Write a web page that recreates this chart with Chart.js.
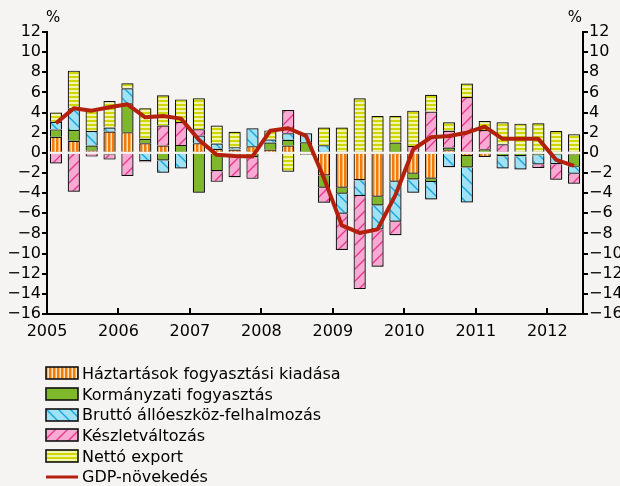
<!DOCTYPE html>
<html>
<head>
<meta charset="utf-8">
<script src="https://cdn.jsdelivr.net/npm/chart.js@4.4.0/dist/chart.umd.min.js"></script>
<style>
	body { margin: 0; background: #f5f4f2; font-family: "DejaVu Sans", sans-serif; }
	#wrap { position: relative; width: 620px; height: 345px; }
	#legend { position: absolute; left: 45px; top: 363px; font-size: 16px; color: #000; }
	.item { display: flex; align-items: center; height: 20.7px; }
	.item canvas { margin-right: 3px; }
</style>
</head>
<body>
<div id="wrap"><canvas id="myChart"></canvas></div>
<div id="legend"></div>
<script>
// Quarterly data, 2005 Q1 - 2012 Q2 (percentage point contributions)
var quarters = ['2005Q1', '2005Q2', '2005Q3', '2005Q4', '2006Q1', '2006Q2', '2006Q3', '2006Q4',
	'2007Q1', '2007Q2', '2007Q3', '2007Q4', '2008Q1', '2008Q2', '2008Q3', '2008Q4',
	'2009Q1', '2009Q2', '2009Q3', '2009Q4', '2010Q1', '2010Q2', '2010Q3', '2010Q4',
	'2011Q1', '2011Q2', '2011Q3', '2011Q4', '2012Q1', '2012Q2'];
var yearLabels = ['2005', '2006', '2007', '2008', '2009', '2010', '2011', '2012'];

var haztartasok = [1.6, 1.19, 0.23, 2.11, 2.05, 0.96, 0.73, 0, 0.96, 0.4, 0.3, 0.66, 0.3, 0.73, 0,
	-2.24, -3.47, -2.71, -4.36, -2.87, -2.08, -2.57, 0.26, -0.3, -0.4, 0, 0.1, 0, 0, -0.2];
var kormanyzati = [0.73, 1.09, 0.5, -0.2, 2.87, 0.43, -0.76, 0.79, -3.96, -1.82, 0.05, -0.43, 0.73, 0.56, 1.06,
	-1.22, -0.59, 0, -0.86, 1.02, -0.56, -0.33, 0.26, -1.16, 0.36, -0.33, -0.33, -0.23, -0.2, -1.19];
var brutto = [0.76, 2.15, 1.45, 0.4, 1.49, -0.83, -1.22, -1.55, 0.76, 0.53, 0.2, 1.78, 0.3, 0.66, 0.89,
	0.76, -1.98, -1.58, -2.38, -3.96, -1.32, -1.72, -1.42, -3.47, 0, -1.22, -1.32, -0.92, -0.92, -0.69];
var keszlet = [-1.06, -3.86, -0.37, -0.47, -2.31, -0.1, 1.98, 2.28, 0.63, -1.06, -2.41, -2.15, -0.12, 2.31, 0,
	-1.49, -3.6, -9.24, -3.7, -1.35, 0.69, 4.09, 1.68, 5.54, 1.91, 0.86, 0, -0.36, -1.55, -0.99];
var netto = [0.92, 3.73, 2.15, 2.64, 0.5, 3.04, 3.0, 2.24, 3.07, 1.78, 1.55, 0, 0.9, -1.88, -0.2,
	1.75, 2.51, 5.41, 3.66, 2.64, 3.5, 1.68, 0.83, 1.35, 0.89, 2.18, 2.8, 2.94, 2.18, 1.85];
var gdp = [2.94, 4.42, 4.19, 4.52, 4.82, 3.53, 3.66, 3.4, 1.3, -0.2, -0.3, -0.36, 2.2, 2.44, 1.68,
	-2.5, -7.2, -7.95, -7.6, -4.2, 0.36, 1.55, 1.68, 2.0, 2.6, 1.39, 1.39, 1.39, -0.7, -1.29];

var FONT = '"DejaVu Sans", sans-serif';

// pattern fills
function makePattern(w, h, draw) {
	var c = document.createElement('canvas');
	c.width = w;
	c.height = h;
	var g = c.getContext('2d');
	draw(g, w, h);
	return g.createPattern(c, 'repeat');
}
function vStripes(g) {
	g.fillStyle = '#f27c0a';
	g.fillRect(0, 0, 4, 4);
	g.fillStyle = '#fde2c2';
	g.fillRect(2.5, 0, 1.5, 4);
}
function solidGreen(g) {
	g.fillStyle = '#7fb82a';
	g.fillRect(0, 0, 4, 4);
}
function blueDiag(g) {
	g.fillStyle = '#9fe2f6';
	g.fillRect(0, 0, 12, 12);
	g.strokeStyle = '#18a6dc';
	g.lineWidth = 1.4;
	g.beginPath();
	g.moveTo(0, 0); g.lineTo(12, 12);
	g.moveTo(-2, 10); g.lineTo(2, 14);
	g.moveTo(10, -2); g.lineTo(14, 2);
	g.stroke();
}
function pinkDiag(g) {
	g.fillStyle = '#f8aad3';
	g.fillRect(0, 0, 12, 12);
	g.strokeStyle = '#e5378d';
	g.lineWidth = 1.4;
	g.beginPath();
	g.moveTo(0, 12); g.lineTo(12, 0);
	g.moveTo(-2, 2); g.lineTo(2, -2);
	g.moveTo(10, 14); g.lineTo(14, 10);
	g.stroke();
}
function hStripes(g) {
	g.fillStyle = '#d0d700';
	g.fillRect(0, 0, 4, 4);
	g.fillStyle = '#f2f5b0';
	g.fillRect(0, 2, 4, 2);
}

var series = [
	{ label: 'Háztartások fogyasztási kiadása', data: haztartasok, fill: vStripes },
	{ label: 'Kormányzati fogyasztás', data: kormanyzati, fill: solidGreen },
	{ label: 'Bruttó állóeszköz-felhalmozás', data: brutto, fill: blueDiag },
	{ label: 'Készletváltozás', data: keszlet, fill: pinkDiag },
	{ label: 'Nettó export', data: netto, fill: hStripes }
];
var patternSize = { vStripes: 4, solidGreen: 4, blueDiag: 12, pinkDiag: 12, hStripes: 4 };

function toPoints(arr) {
	return arr.map(function (v, i) { return { x: i + 0.5, y: v }; });
}

var datasets = series.map(function (s) {
	var n = patternSize[s.fill.name];
	return {
		type: 'bar',
		label: s.label,
		data: toPoints(s.data),
		backgroundColor: makePattern(n, n, s.fill),
		borderColor: '#111',
		borderWidth: 1.2,
		barPercentage: 0.68,
		categoryPercentage: 1,
		order: 1
	};
});
datasets.push({
	type: 'line',
	label: 'GDP-növekedés',
	data: toPoints(gdp),
	borderColor: '#b3200c',
	borderWidth: 4,
	borderJoinStyle: 'round',
	pointRadius: 0,
	fill: false,
	stack: 'gdp',
	order: 0
});

// soft shadow behind bars
var barShadow = {
	id: 'barShadow',
	beforeDatasetDraw: function (chart, args) {
		if (args.meta.type !== 'bar') return;
		var ctx = chart.ctx;
		ctx.save();
		ctx.shadowColor = 'rgba(0,0,0,0.35)';
		ctx.shadowBlur = 3;
		ctx.shadowOffsetX = 1;
		ctx.shadowOffsetY = 1;
	},
	afterDatasetDraw: function (chart, args) {
		if (args.meta.type !== 'bar') return;
		chart.ctx.restore();
	}
};

// % units and inward year ticks
var extras = {
	id: 'extras',
	afterDraw: function (chart) {
		var ctx = chart.ctx;
		var area = chart.chartArea;
		var x = chart.scales.x;
		ctx.save();
		ctx.font = '15px ' + FONT;
		ctx.fillStyle = '#000';
		ctx.textBaseline = 'middle';
		ctx.textAlign = 'left';
		ctx.fillText('%', area.left - 1, 18);
		ctx.textAlign = 'right';
		ctx.fillText('%', area.right - 1, 18);
		ctx.strokeStyle = '#000';
		ctx.lineWidth = 2;
		ctx.beginPath();
		for (var v = 4; v < 30; v += 4) {
			var px = Math.round(x.getPixelForValue(v));
			ctx.moveTo(px, area.bottom);
			ctx.lineTo(px, area.bottom - 6);
		}
		ctx.stroke();
		ctx.restore();
	}
};

function minus(v) {
	return String(v).replace('-', '\u2212');
}

var yAxis = {
	min: -16,
	max: 12,
	ticks: {
		stepSize: 2,
		maxTicksLimit: 20,
		autoSkip: false,
		color: '#000',
		padding: 1,
		font: { family: FONT, size: 16 },
		callback: minus
	},
	grid: { drawOnChartArea: false, color: '#000', lineWidth: 2, tickLength: 5 },
	border: { color: '#000', width: 2 }
};

var ctx = document.getElementById('myChart').getContext('2d');
var myChart = new Chart(ctx, {
	data: { datasets: datasets },
	plugins: [barShadow, extras],
	options: {
		responsive: true,
		maintainAspectRatio: false,
		animation: false,
		layout: { padding: { top: 32, left: 0, right: 0, bottom: 0 } },
		plugins: { legend: { display: false }, tooltip: { enabled: false } },
		scales: {
			x: {
				type: 'linear',
				min: 0,
				max: 30,
				offset: false,
				stacked: true,
				ticks: {
					stepSize: 4,
					includeBounds: false,
					color: '#000',
					padding: 8,
					maxRotation: 0,
					autoSkip: false,
					font: { family: FONT, size: 16 },
					callback: function (v) { return yearLabels[v / 4]; }
				},
				grid: { display: false, drawTicks: false, offset: false },
				border: { color: '#000', width: 2 },
				afterFit: function (s) { s.height = 31; }
			},
			y: Object.assign({}, yAxis, {
				position: 'left',
				stacked: true,
				afterFit: function (s) { s.width = 47; }
			}),
			y2: Object.assign({}, yAxis, {
				position: 'right',
				afterFit: function (s) { s.width = 37; }
			})
		}
	}
});

// legend
var legend = document.getElementById('legend');
series.forEach(function (s) {
	var row = document.createElement('div');
	row.className = 'item';
	var c = document.createElement('canvas');
	c.width = 34;
	c.height = 14;
	var g = c.getContext('2d');
	var n = patternSize[s.fill.name];
	g.fillStyle = makePattern(n, n, s.fill);
	g.fillRect(1, 1, 32, 12);
	g.strokeStyle = '#111';
	g.lineWidth = 1.6;
	g.strokeRect(1, 1, 32, 12);
	row.appendChild(c);
	var t = document.createElement('span');
	t.textContent = s.label;
	row.appendChild(t);
	legend.appendChild(row);
});
var lineRow = document.createElement('div');
lineRow.className = 'item';
var lc = document.createElement('canvas');
lc.width = 34;
lc.height = 14;
var lg = lc.getContext('2d');
lg.strokeStyle = '#b3200c';
lg.lineWidth = 3;
lg.beginPath();
lg.moveTo(1, 7);
lg.lineTo(33, 7);
lg.stroke();
lineRow.appendChild(lc);
var lt = document.createElement('span');
lt.textContent = 'GDP-növekedés';
lineRow.appendChild(lt);
legend.appendChild(lineRow);
</script>
</body>
</html>
